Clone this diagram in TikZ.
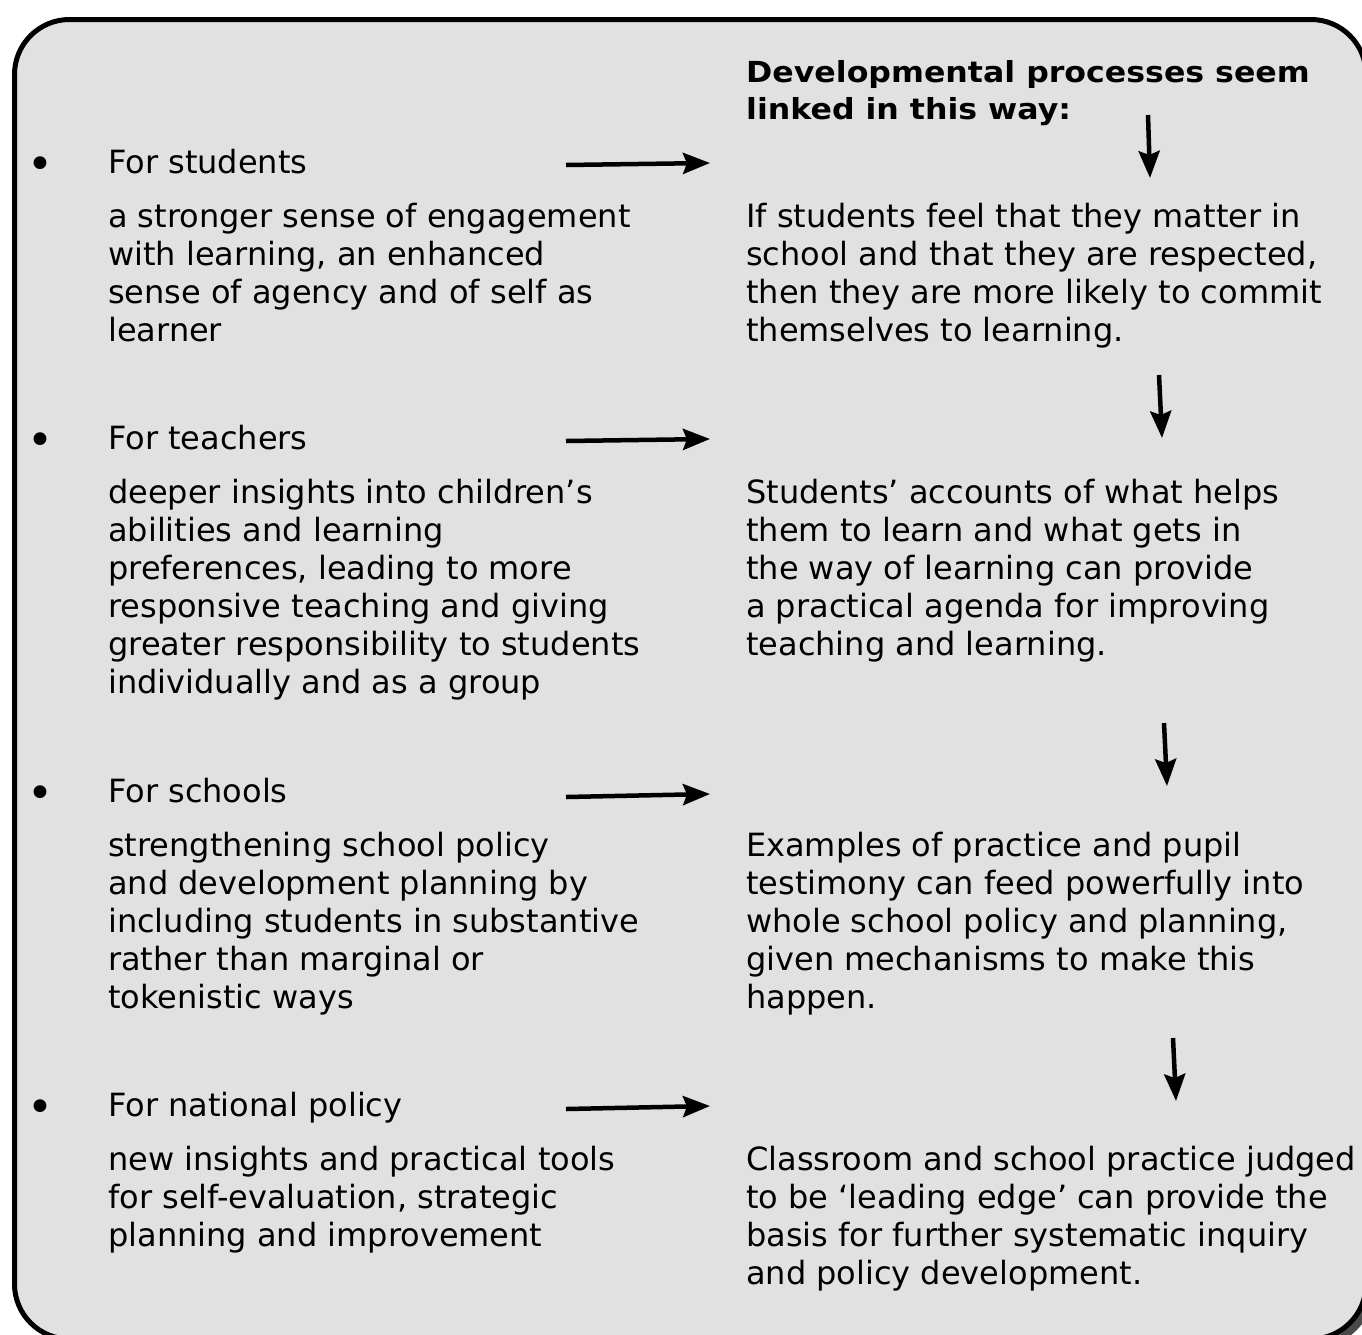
\documentclass[tikz,border=0pt]{standalone}
\usepackage{fontspec}
\setmainfont{DejaVu Sans}
\newfontfamily\titlefont{DejaVu Sans}[FakeStretch=1.09]
\usetikzlibrary{arrows.meta}

\definecolor{panelgray}{HTML}{E0E1E0}
\definecolor{shadowgray}{HTML}{4A4A4A}

\tikzset{
  panel/.style={draw=black, line width=5pt, fill=panelgray, rounded corners=55pt},
  head/.style={anchor=base west, inner sep=0pt, font=\fontsize{32}{38}\selectfont},
  % multi-line nodes sit on the baseline of their last line
  para/.style={anchor=base west, inner sep=0pt, align=left, font=\fontsize{32}{38}\selectfont},
  title/.style={anchor=base west, inner sep=0pt, align=left, font=\titlefont\fontsize{29}{37}\selectfont\bfseries},
  blt/.style={anchor=base, inner sep=0pt, font=\fontsize{44}{44}\selectfont},
  link/.style={line width=4.5pt, -{Stealth[length=27pt, width=21pt, inset=4pt]}}
}

\begin{document}
\begin{tikzpicture}[x=1pt, y=-1pt]
  \useasboundingbox (0,0) rectangle (1362,1334);
  \clip (0,0) rectangle (1362,1334);

  % --- Panel and its shadow ---
  \fill[shadowgray, rounded corners=55pt] (21.5,26.5) rectangle (1373,1346);
  \path[panel] (14.5,19.5) rectangle (1366,1339);

  % --- Left column: who benefits ---
  \node[blt]  (b1) at (40,179) {\textbullet};
  \node[head] (h1) at (108,173) {For students};
  \node[para] (p1) at (108,341) {a stronger sense of engagement\\with learning, an enhanced\\sense of agency and of self as\\learner};

  \node[blt]  (b2) at (40,455) {\textbullet};
  \node[head] (h2) at (108,449) {For teachers};
  \node[para] (p2) at (108,693) {deeper insights into children’s\\abilities and learning\\preferences, leading to more\\responsive teaching and giving\\greater responsibility to students\\individually and as a group};

  \node[blt]  (b3) at (40,808) {\textbullet};
  \node[head] (h3) at (108,802) {For schools};
  \node[para] (p3) at (108,1008) {strengthening school policy\\and development planning by\\including students in substantive\\rather than marginal or\\tokenistic ways};

  \node[blt]  (b4) at (40,1122) {\textbullet};
  \node[head] (h4) at (108,1116) {For national policy};
  \node[para] (p4) at (108,1246) {new insights and practical tools\\for self-evaluation, strategic\\planning and improvement};

  % --- Right column: how the processes link ---
  \node[title] (t0) at (746,119) {Developmental processes seem\\linked in this way:};
  \node[para] (r1) at (746,341) {If students feel that they matter in\\school and that they are respected,\\then they are more likely to commit\\themselves to learning.};
  \node[para] (r2) at (746,655) {Students’ accounts of what helps\\them to learn and what gets in\\the way of learning can provide\\a practical agenda for improving\\teaching and learning.};
  \node[para] (r3) at (746,1008) {Examples of practice and pupil\\testimony can feed powerfully into\\whole school policy and planning,\\given mechanisms to make this\\happen.};
  \node[para] (r4) at (746,1284) {Classroom and school practice judged\\to be ‘leading edge’ can provide the\\basis for further systematic inquiry\\and policy development.};

  % --- Arrow ends ---
  \coordinate (hs1) at (566,165);  \coordinate (he1) at (710,163);
  \coordinate (hs2) at (566,441);  \coordinate (he2) at (710,439);
  \coordinate (hs3) at (566,797);  \coordinate (he3) at (710,794);
  \coordinate (hs4) at (566,1109); \coordinate (he4) at (710,1106);
  \coordinate (vs1) at (1148,115); \coordinate (ve1) at (1150,178);
  \coordinate (vs2) at (1159,375); \coordinate (ve2) at (1162,438);
  \coordinate (vs3) at (1164,723); \coordinate (ve3) at (1167,786);
  \coordinate (vs4) at (1173,1038); \coordinate (ve4) at (1176,1101);

  % --- Arrows across ---
  \draw[link] (hs1) -- (he1);
  \draw[link] (hs2) -- (he2);
  \draw[link] (hs3) -- (he3);
  \draw[link] (hs4) -- (he4);

  % --- Arrows down ---
  \draw[link] (vs1) -- (ve1);
  \draw[link] (vs2) -- (ve2);
  \draw[link] (vs3) -- (ve3);
  \draw[link] (vs4) -- (ve4);
\end{tikzpicture}
\end{document}
